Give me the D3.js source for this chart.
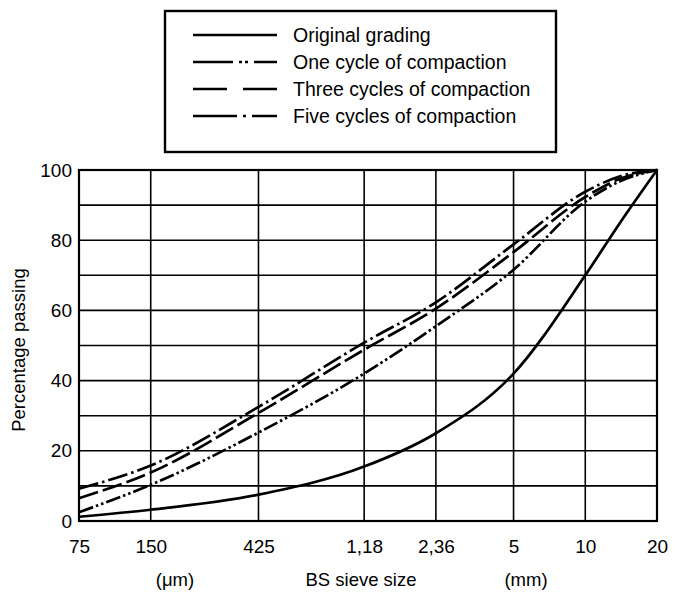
<!DOCTYPE html>
<html>
<head>
<meta charset="utf-8">
<script src="https://cdn.jsdelivr.net/npm/d3@7"></script>
<style>
  html, body { margin: 0; padding: 0; background: #fff; }
  svg { display: block; font-family: "Liberation Sans", Arial, Helvetica, sans-serif; }
</style>
</head>
<body>
<svg id="chart" width="675" height="592"></svg>
<script>
// BS sieve apertures (mm) used for the grid and tick labels
const sieveSizes = [0.075, 0.15, 0.425, 1.18, 2.36, 5, 10, 20];
const sieveLabels = ["75", "150", "425", "1,18", "2,36", "5", "10", "20"];

// Sieve sizes (mm) at which the grading curves are plotted
const curveSizes = [0.075, 0.15, 0.425, 1.18, 2.36, 5, 10, 14, 20];

// Percentage passing for each grading
const originalGrading = [1.2, 3.2, 7.5, 15.5, 25, 42, 70, 85, 100];
const oneCycle        = [2.5, 10.3, 25.2, 42, 55.5, 71.6, 91, 96.8, 100];
const threeCycles     = [6.5, 13.8, 30.8, 48.8, 60.5, 76.6, 92.3, 97.5, 100];
const fiveCycles      = [9.2, 15.8, 32.5, 50.8, 62.3, 78.8, 93.8, 98.2, 100];

const yTicks = [0, 20, 40, 60, 80, 100];
const yGrid = d3.range(0, 101, 10);

const seriesNames = [
  "Original grading",
  "One cycle of compaction",
  "Three cycles of compaction",
  "Five cycles of compaction"
];

const series = [
  { name: seriesNames[0], values: originalGrading, dash: null, legendDash: null },
  { name: seriesNames[1], values: oneCycle, dash: "15,3,2.5,3,2.5,3", legendDash: "40,6,3,3,3,6,40" },
  { name: seriesNames[2], values: threeCycles, dash: "20,5", legendDash: "34,16" },
  { name: seriesNames[3], values: fiveCycles, dash: "20,4,2.5,4", legendDash: "44,6,3,6,40" }
];

const svg = d3.select("#chart");
const margin = { left: 79, right: 18, top: 170, bottom: 71 };
const width = 675, height = 592;

const x = d3.scaleLog()
  .domain([0.075, 20])
  .range([margin.left, width - margin.right]);
const y = d3.scaleLinear()
  .domain([0, 100])
  .range([height - margin.bottom, margin.top]);

// Grid
const grid = svg.append("g").attr("stroke", "#000").attr("stroke-width", 1.6);
grid.selectAll("line.h").data(yGrid).join("line")
  .attr("class", "h")
  .attr("x1", x(0.075)).attr("x2", x(20))
  .attr("y1", d => y(d)).attr("y2", d => y(d));
grid.selectAll("line.v").data(sieveSizes).join("line")
  .attr("class", "v")
  .attr("x1", d => x(d)).attr("x2", d => x(d))
  .attr("y1", y(0)).attr("y2", y(100));

// Frame
svg.append("rect")
  .attr("x", x(0.075)).attr("y", y(100))
  .attr("width", x(20) - x(0.075)).attr("height", y(0) - y(100))
  .attr("fill", "none").attr("stroke", "#000").attr("stroke-width", 2.2);

// Axes (labels only; the grid carries the lines)
const yAxis = d3.axisLeft(y).tickValues(yTicks).tickSize(0).tickPadding(7);
svg.append("g")
  .attr("transform", `translate(${x(0.075)},0)`)
  .call(yAxis)
  .call(g => g.select(".domain").remove())
  .call(g => g.selectAll("text").attr("font-size", 19).attr("fill", "#000")
    .attr("font-family", "Liberation Sans, Arial, sans-serif"));

const xAxis = d3.axisBottom(x).tickValues(sieveSizes)
  .tickFormat((d, i) => sieveLabels[i]).tickSize(0).tickPadding(19);
svg.append("g")
  .attr("transform", `translate(0,${y(0)})`)
  .call(xAxis)
  .call(g => g.select(".domain").remove())
  .call(g => g.selectAll("text").attr("font-size", 19).attr("fill", "#000")
    .attr("font-family", "Liberation Sans, Arial, sans-serif"));

// Axis titles
svg.append("text")
  .attr("transform", `translate(25,350) rotate(-90)`)
  .attr("text-anchor", "middle")
  .attr("font-size", 18.5)
  .text("Percentage passing");

const titleY = 586;
svg.append("text").attr("x", 175).attr("y", titleY).attr("text-anchor", "middle")
  .attr("font-size", 18.5).text("(\u03BCm)");
svg.append("text").attr("x", 361).attr("y", titleY).attr("text-anchor", "middle")
  .attr("font-size", 18.5).text("BS sieve size");
svg.append("text").attr("x", 526).attr("y", titleY).attr("text-anchor", "middle")
  .attr("font-size", 18.5).text("(mm)");

// Grading curves
const line = d3.line()
  .x(d => x(d[0]))
  .y(d => y(d[1]))
  .curve(d3.curveMonotoneX);

svg.append("g").selectAll("path").data(series).join("path")
  .attr("d", s => line(curveSizes.map((c, i) => [c, s.values[i]])))
  .attr("fill", "none")
  .attr("stroke", "#000")
  .attr("stroke-width", 2.7)
  .attr("stroke-dasharray", s => s.dash)
  .attr("stroke-linecap", "butt");

// Legend
const legend = svg.append("g");
legend.append("rect")
  .attr("x", 165).attr("y", 11).attr("width", 391).attr("height", 141)
  .attr("fill", "#fff").attr("stroke", "#000").attr("stroke-width", 2.4);

const rowY = [35, 62, 89, 116];
const rows = legend.selectAll("g.row").data(series).join("g")
  .attr("class", "row")
  .attr("transform", (d, i) => `translate(0,${rowY[i]})`);
rows.append("line")
  .attr("x1", 193).attr("x2", 277).attr("y1", 0).attr("y2", 0)
  .attr("stroke", "#000").attr("stroke-width", 2.7)
  .attr("stroke-dasharray", d => d.legendDash);
rows.append("text")
  .attr("x", 293).attr("y", 7)
  .attr("font-size", 19.5)
  .text(d => d.name);
</script>
</body>
</html>
